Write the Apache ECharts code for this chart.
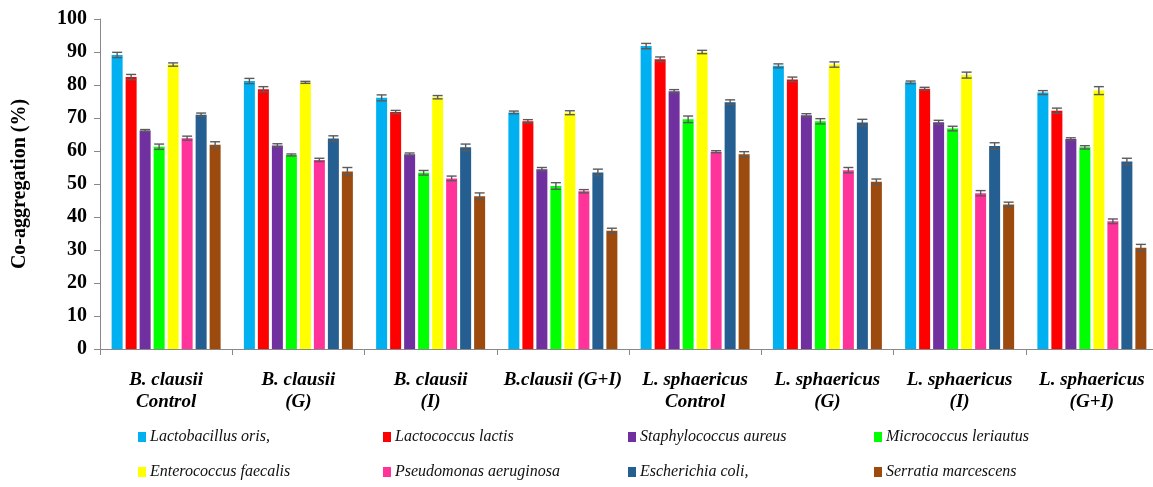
<!DOCTYPE html>
<html>
<head>
<meta charset="utf-8">
<script src="https://cdn.jsdelivr.net/npm/echarts@6/dist/echarts.min.js"></script>
<style>
  html, body { margin: 0; padding: 0; background: #fff; }
  #chart { width: 1153px; height: 487px; }
</style>
</head>
<body>
<div id="chart"></div>
<script>
const categories = [
  "B. clausii\nControl", "B. clausii\n(G)", "B. clausii\n(I)", "B.clausii (G+I)",
  "L. sphaericus\nControl", "L. sphaericus\n(G)", "L. sphaericus\n(I)", "L. sphaericus\n(G+I)"
];
const names = [
  "Lactobacillus oris,", "Lactococcus lactis", "Staphylococcus aureus", "Micrococcus leriautus",
  "Enterococcus faecalis", "Pseudomonas aeruginosa", "Escherichia coli,", "Serratia marcescens"
];
const colors = ["#00b0f0", "#ff0000", "#7030a0", "#00ff00", "#ffff00", "#ff3399", "#255e91", "#9c4a0e"];

// one array per strain, one value per group
const lactobacillus = [89.1, 81.2, 76.1, 71.7, 91.8, 85.8, 80.8, 77.7];
const lactococcus   = [82.4, 78.7, 71.8, 69.0, 87.8, 81.7, 78.9, 72.2];
const staph         = [66.2, 61.7, 59.0, 54.5, 78.1, 70.8, 68.7, 63.6];
const micrococcus   = [61.3, 58.8, 53.4, 49.4, 69.6, 69.0, 66.8, 61.1];
const enterococcus  = [86.2, 80.8, 76.3, 71.6, 90.0, 86.2, 83.0, 78.3];
const pseudomonas   = [63.9, 57.3, 51.7, 47.8, 59.8, 54.2, 47.2, 38.7];
const ecoli         = [71.0, 63.8, 61.1, 53.5, 74.8, 68.6, 61.5, 56.8];
const serratia      = [61.9, 53.8, 46.3, 35.8, 59.0, 50.7, 43.8, 30.7];
const values = [lactobacillus, lactococcus, staph, micrococcus, enterococcus, pseudomonas, ecoli, serratia];

// standard deviations, same layout
const errLactobacillus = [0.8, 0.8, 0.9, 0.4, 0.8, 0.6, 0.4, 0.6];
const errLactococcus   = [0.8, 0.8, 0.5, 0.5, 0.7, 0.7, 0.4, 0.8];
const errStaph         = [0.3, 0.5, 0.4, 0.5, 0.5, 0.5, 0.6, 0.4];
const errMicrococcus   = [0.8, 0.3, 0.7, 1.0, 1.0, 0.8, 0.7, 0.5];
const errEnterococcus  = [0.5, 0.3, 0.5, 0.6, 0.5, 0.8, 0.9, 1.2];
const errPseudomonas   = [0.6, 0.5, 0.7, 0.5, 0.3, 0.8, 0.8, 0.7];
const errEcoli         = [0.5, 0.8, 1.0, 1.0, 0.7, 1.0, 1.0, 1.0];
const errSerratia      = [0.9, 1.2, 1.0, 0.8, 0.8, 0.8, 0.7, 1.0];
const errors = [errLactobacillus, errLactococcus, errStaph, errMicrococcus, errEnterococcus, errPseudomonas, errEcoli, errSerratia];

const yTicks = [0, 10, 20, 30, 40, 50, 60, 70, 80, 90, 100];

const BAR_W = 11;
const BAR_STEP = 14;  // bar width + gap
const serif = "'Liberation Serif', 'Times New Roman', serif";

const chart = echarts.init(document.getElementById("chart"));

const series = values.map((v, i) => ({
  name: names[i],
  type: "bar",
  data: v,
  barWidth: BAR_W,
  barGap: ((BAR_STEP - BAR_W) / BAR_W * 100) + "%",
  itemStyle: { color: colors[i] },
  emphasis: { disabled: true },
  z: 2
}));

const errData = [];
values.forEach((v, s) => v.forEach((val, c) => errData.push([c, s, val, errors[s][c]])));

series.push({
  type: "custom",
  data: errData,
  z: 5,
  silent: true,
  renderItem(params, api) {
    const c = api.value(0), s = api.value(1), val = api.value(2), e = api.value(3);
    const x = api.coord([c, val])[0] + (s - 3.5) * BAR_STEP;
    const yt = api.coord([c, val + e])[1];
    const yb = api.coord([c, val - e])[1];
    const style = { stroke: "#5a5a5a", lineWidth: 1.4 };
    return {
      type: "group",
      children: [
        { type: "line", shape: { x1: x, y1: yt, x2: x, y2: yb }, style },
        { type: "line", shape: { x1: x - 5, y1: yt, x2: x + 5, y2: yt }, style },
        { type: "line", shape: { x1: x - 5, y1: yb, x2: x + 5, y2: yb }, style }
      ]
    };
  }
});

const legendLeft = [138, 383, 628, 874];
const legendTop = [429, 464];
const legends = names.map((n, i) => ({
  data: [n],
  left: legendLeft[i % 4],
  top: legendTop[Math.floor(i / 4)],
  padding: 0,
  itemWidth: 8,
  itemHeight: 10,
  icon: "rect",
  selectedMode: false,
  textStyle: { fontFamily: serif, fontStyle: "italic", fontSize: 16, color: "#111", padding: [0, 0, 0, -1] }
}));

chart.setOption({
  animation: false,
  color: colors,
  legend: legends,
  grid: { left: 100, top: 19, width: 1058, height: 330, outerBoundsMode: "none", containLabel: false },
  xAxis: {
    type: "category",
    data: categories,
    axisLine: { lineStyle: { color: "#888", width: 1 } },
    axisTick: { show: true, length: 6, lineStyle: { color: "#888" } },
    axisLabel: {
      interval: 0,
      margin: 20,
      fontFamily: serif,
      fontWeight: "bold",
      fontStyle: "italic",
      fontSize: 19,
      lineHeight: 22,
      color: "#000"
    }
  },
  yAxis: {
    type: "value",
    min: yTicks[0],
    max: yTicks[yTicks.length - 1],
    interval: 10,
    name: "Co-aggregation (%)",
    nameLocation: "middle",
    nameRotate: 90,
    nameGap: 70,
    nameTextStyle: { fontFamily: serif, fontWeight: "bold", fontSize: 20, color: "#000" },
    axisLine: { show: true, lineStyle: { color: "#888", width: 1 } },
    axisTick: { show: true, length: 6, lineStyle: { color: "#888" } },
    splitLine: { show: false },
    axisLabel: {
      margin: 13,
      fontFamily: serif,
      fontWeight: "bold",
      fontSize: 20,
      color: "#000"
    }
  },
  series
});
</script>
</body>
</html>
